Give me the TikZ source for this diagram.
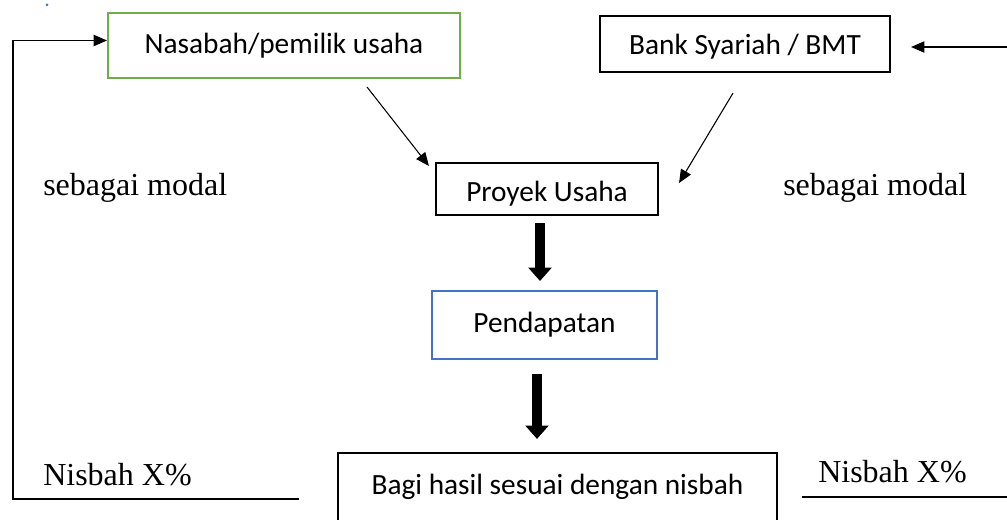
\documentclass[tikz,border=0pt]{standalone}
\usepackage{fontspec}
\setmainfont{Liberation Serif}
\newfontfamily\calibri{Carlito}
\usetikzlibrary{positioning}
\usetikzlibrary{arrows.meta}
\definecolor{boxgreen}{HTML}{70AD47}
\definecolor{boxblue}{HTML}{4472C4}

\begin{document}
\begin{tikzpicture}
[x=0.75pt,y=-0.75pt,
 party/.style={shape=rectangle,draw,line width=1.6pt,inner sep=0pt,
   font=\calibri\fontsize{22}{26}\selectfont},
 greenbox/.style={party,draw=boxgreen,line width=1.5pt},
 bluebox/.style={party,draw=boxblue,line width=1.5pt},
 lowered/.style={text height=#1,text depth=4.5pt},
 note/.style={anchor=west,inner sep=0pt,font=\fontsize{24}{28}\selectfont},
 flow/.style={-{Triangle[length=10pt,width=8.5pt]},line width=0.8pt},
 bigflow/.style={-{Triangle[length=10pt,width=17pt]},line width=7.5pt}]

\useasboundingbox (0,0) rectangle (1007,520);
\fill[boxblue] (47,5) circle (1.5);

\draw (284,45.5) node (nasabah) [greenbox,minimum width=264pt,minimum height=48.75pt] {Nasabah/pemilik usaha};
\draw (745,44) node (bank) [party,lowered=20pt,minimum width=217.5pt,minimum height=42pt] {Bank Syariah / BMT};
\draw (547,189) node (proyek) [party,lowered=24pt,minimum width=166.5pt,minimum height=39pt] {Proyek Usaha};
\draw (544.5,325) node (pendapatan) [bluebox,minimum width=168.75pt,minimum height=51pt] {Pendapatan};
\draw (557.5,487) node (bagi) [party,minimum width=329.25pt,minimum height=51pt] {Bagi hasil sesuai dengan nisbah};

\draw (43,188) node (modalkiri) [note] {sebagai modal};
\draw (783,188) node (modalkanan) [note] {sebagai modal};
\draw (43,475) node (nisbahkiri) [note] {Nisbah X\%};
\draw (818,472) node (nisbahkanan) [note] {Nisbah X\%};

\coordinate (loopend) at (299,499);
\coordinate (bankin) at (1007,47);
\coordinate (garisa) at (802,497);
\coordinate (garisb) at (1007,497);

% modal masuk ke proyek
\draw [flow] ([shift={(83,8)}]nasabah.south) -- ([shift={(-6,-23)}]proyek.west);
\draw [flow] ([shift={(-12,20)}]bank.south) -- ([shift={(20,-6)}]proyek.east);

\draw [bigflow] ([shift={(-7,7)}]proyek.south) -- ([shift={(-4.5,-9)}]pendapatan.north);
\draw [bigflow] ([shift={(-7.5,14)}]pendapatan.south) -- ([shift={(-20.5,-13)}]bagi.north);

% nisbah kembali
\draw [flow] (loopend) -| ([shift={(-94,-5)}]nasabah.west) -- ([shift={(0,-5)}]nasabah.west);
\draw [flow] (bankin) -- ([shift={(20,3)}]bank.east);
\draw [line width=0.8pt] (garisa) -- (garisb);

\end{tikzpicture}
\end{document}
